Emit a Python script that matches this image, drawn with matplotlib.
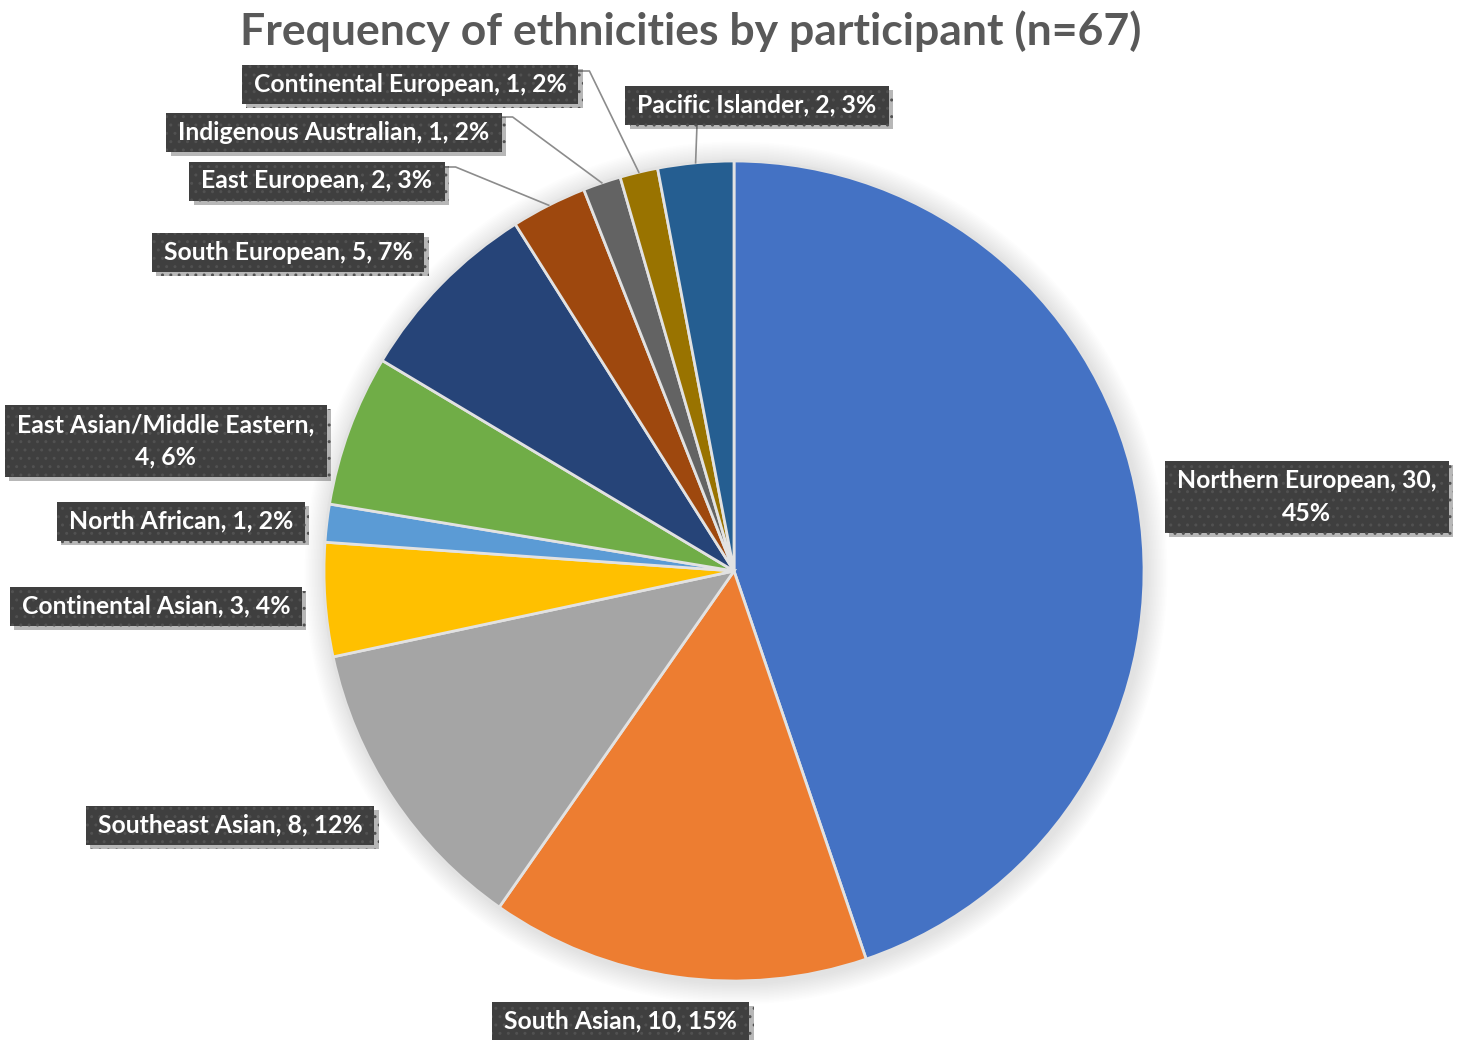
import numpy as np
import matplotlib.pyplot as plt
from matplotlib.patches import Circle, Rectangle
from matplotlib import patheffects as pe

plt.rcParams['font.family'] = ['Lato', 'DejaVu Sans']

W, H = 1458, 1040

# ethnicities, clockwise from 12 o'clock
ethnicities = ['Northern European', 'South Asian', 'Southeast Asian', 'Continental Asian',
               'North African', 'East Asian/Middle Eastern', 'South European', 'East European',
               'Indigenous Australian', 'Continental European', 'Pacific Islander']
counts = [30, 10, 8, 3, 1, 4, 5, 2, 1, 1, 2]
percents = [45, 15, 12, 4, 2, 6, 7, 3, 2, 2, 3]
colors = ['#4472C4', '#ED7D31', '#A5A5A5', '#FFC000', '#5B9BD5', '#70AD47',
          '#264478', '#9E480E', '#636363', '#997300', '#255E91']
explode = [0.026, 0.012, 0, 0, 0, 0, 0, 0, 0, 0, 0]

# label box centres (px from top-left) and line breaks
label_pos = {
    'Northern European': (1307, 497),
    'South Asian': (621, 1021),
    'Southeast Asian': (230, 825),
    'Continental Asian': (156, 606),
    'North African': (181, 521),
    'East Asian/Middle Eastern': (166, 441),
    'South European': (288, 252),
    'East European': (317, 181),
    'Indigenous Australian': (334, 132),
    'Continental European': (410, 84),
    'Pacific Islander': (757, 105),
}
wrap = {'Northern European': 2, 'East Asian/Middle Eastern': 1}
# leader lines leave the box's right side at this height (px from top), or its bottom
leaders = {
    'Continental European': ('right', 71),
    'Indigenous Australian': ('right', 117),
    'East European': ('right', 167),
    'Pacific Islander': ('bottom', 697),
}

fig = plt.figure(figsize=(W / 100, H / 100), dpi=100)
ax = fig.add_axes([0, 0, 1, 1])

cx, cy, r = 734, H - 571, 410

# soft halo behind the pie
for k in range(14):
    ax.add_patch(Circle((cx + 2, cy - 2), r + 2 + k * 1.5, color='black', alpha=0.009, lw=0, zorder=0))

wedges, _ = ax.pie(counts, colors=colors, startangle=90, counterclock=False,
                   radius=r, center=(cx, cy), explode=explode,
                   wedgeprops=dict(edgecolor='#e2e2e2', linewidth=2))
for w in wedges:
    w.set_zorder(2)

ax.set_xlim(0, W)
ax.set_ylim(0, H)
ax.set_aspect('auto')
ax.axis('off')

ax.text(691, H - 31, 'Frequency of ethnicities by participant (n=67)',
        ha='center', va='center', fontsize=32, fontweight='bold', color='#595959')

fig.canvas.draw()
renderer = fig.canvas.get_renderer()
inv = ax.transData.inverted()

for name, cnt, pct, wdg in zip(ethnicities, counts, percents, wedges):
    parts = [name + ',', str(cnt) + ',', str(pct) + '%']
    if name in wrap:
        i = wrap[name]
        label = ' '.join(parts[:i]) + '\n' + ' '.join(parts[i:])
    else:
        label = ' '.join(parts)
    x, y = label_pos[name]
    t = ax.text(x, H - y, label, ha='center', va='center', fontsize=17.8,
                fontweight='bold', color='white', zorder=6, linespacing=1.5)
    bb = t.get_window_extent(renderer)
    (x0, y0), (x1, y1) = inv.transform([(bb.x0, bb.y0), (bb.x1, bb.y1)])
    padx, pady = 12, 8
    bx0, bx1 = x0 - padx, x1 + padx
    by0, by1 = y0 - pady, y1 + pady
    box = Rectangle((bx0, by0), bx1 - bx0, by1 - by0,
                    facecolor='#3f3f3f', edgecolor='#515151', hatch='..', lw=0, zorder=5)
    box.set_path_effects([pe.SimplePatchShadow(offset=(3, -3), alpha=0.3), pe.Normal()])
    ax.add_patch(box)

    if name in leaders:
        mid = np.deg2rad((wdg.theta1 + wdg.theta2) / 2)
        wx, wy = wdg.center
        end = (wx + wdg.r * np.cos(mid), wy + wdg.r * np.sin(mid))
        side, pos = leaders[name]
        if side == 'right':
            pts = [(bx1, H - pos), (bx1 + 11, H - pos), end]
        else:
            pts = [(pos, by0), end]
        xs, ys = zip(*pts)
        ax.plot(xs, ys, color='#8c8c8c', lw=1.2, zorder=3)

fig.savefig('out.png', dpi=100, facecolor='white')
